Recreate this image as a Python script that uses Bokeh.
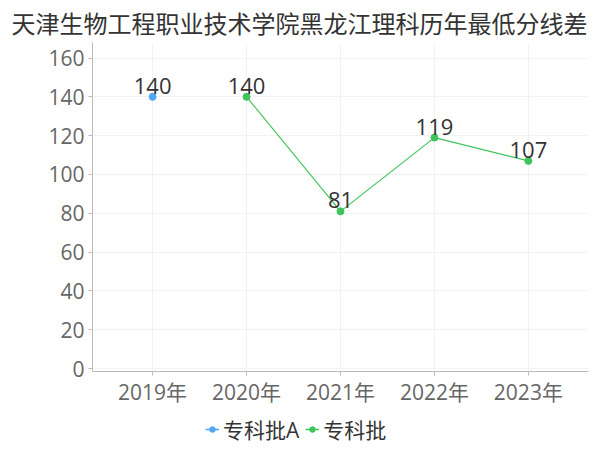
from bokeh.plotting import figure
from bokeh.layouts import column
from bokeh.models import Range1d, Legend, LegendItem, FixedTicker, ColumnDataSource, LabelSet
from bokeh.core.properties import value
from bokeh.embed import file_html
from bokeh.resources import INLINE

years = ["2019年", "2020年", "2021年", "2022年", "2023年"]
a_idx = [0]
a_vals = [140]
b_idx = [1, 2, 3, 4]
b_vals = [140, 81, 119, 107]
y_ticks = [0, 20, 40, 60, 80, 100, 120, 140, 160]
series_names = ["专科批A", "专科批"]

FONT = "'Open Sans', 'Noto Sans CJK SC'"
BLUE = "#4ea6f5"
GREEN = "#3ec45a"

p = figure(frame_width=496, frame_height=329, output_backend="svg", toolbar_location=None,
           x_range=Range1d(-0.64, 4.64), y_range=Range1d(-1.5, 168),
           min_border_left=92, min_border_right=4, min_border_top=0, min_border_bottom=36)
p.outline_line_color = None
p.title.text = "天津生物工程职业技术学院黑龙江理科历年最低分线差"
p.title.text_font = "Noto Sans CJK SC"
p.title.text_font_size = "24px"
p.title.text_font_style = "normal"
p.title.text_color = "#333333"
p.title.align = "left"
p.title.offset = -81
p.title.standoff = 5

p.xaxis.ticker = FixedTicker(ticks=list(range(len(years))))
p.xaxis.major_label_overrides = {i: y for i, y in enumerate(years)}
p.yaxis.ticker = FixedTicker(ticks=y_ticks)
for ax in (p.xaxis, p.yaxis):
    ax.major_label_text_font = FONT
    ax.major_label_text_font_size = "21px"
    ax.major_label_text_color = "#666666"
    ax.axis_line_color = "#bbbbbb"
    ax.major_tick_line_color = "#bbbbbb"
    ax.major_tick_in = 0
    ax.major_tick_out = 4
    ax.minor_tick_line_color = None
p.xaxis.major_label_standoff = 2
p.yaxis.major_label_standoff = 4

p.xgrid.ticker = FixedTicker(ticks=[-0.64] + list(range(len(years))) + [4.64])
p.xgrid.grid_line_color = "#f2f2f2"
p.ygrid.grid_line_color = "#f2f2f2"

p.line(a_idx, a_vals, line_color=BLUE, line_width=1.2)
p.scatter(a_idx, a_vals, size=7, fill_color=BLUE, line_color=BLUE)
p.line(b_idx, b_vals, line_color=GREEN, line_width=1.2)
p.scatter(b_idx, b_vals, size=7, fill_color=GREEN, line_color=GREEN)

src = ColumnDataSource(dict(x=a_idx + b_idx, y=a_vals + b_vals,
                            t=[str(v) for v in a_vals + b_vals]))
labels = LabelSet(x="x", y="y", text="t", source=src, text_align="center",
                  text_baseline="bottom", y_offset=3, text_font_size="22px",
                  text_color="#333333", text_font=value(FONT))
p.add_layout(labels)

# legend in a small strip below the chart (frames are aligned in the column)
lg = figure(width=592, height=40, output_backend="svg", toolbar_location=None,
            x_range=Range1d(0, 1), y_range=Range1d(0, 1),
            x_axis_location=None, y_axis_location=None,
            min_border_left=0, min_border_right=0, min_border_top=0, min_border_bottom=0)
lg.outline_line_color = None
lg.xgrid.visible = False
lg.ygrid.visible = False
items = []
for name, col in zip(series_names, [BLUE, GREEN]):
    r1 = lg.line([-10, -9], [-10, -10], line_color=col, line_width=1.5)
    r2 = lg.scatter([-10], [-10], size=7, fill_color=col, line_color=col)
    items.append(LegendItem(label=name, renderers=[r1, r2]))
legend = Legend(items=items, orientation="horizontal", location=(113, 4),
                label_text_font=FONT, label_text_font_size="21px",
                label_text_color="#333333", border_line_color=None,
                background_fill_alpha=0,
                glyph_width=14, glyph_height=24, label_height=24,
                label_standoff=4, spacing=6, margin=0, padding=0)
lg.add_layout(legend)

open("out.html", "w").write(file_html(column(p, lg, spacing=0), INLINE))
